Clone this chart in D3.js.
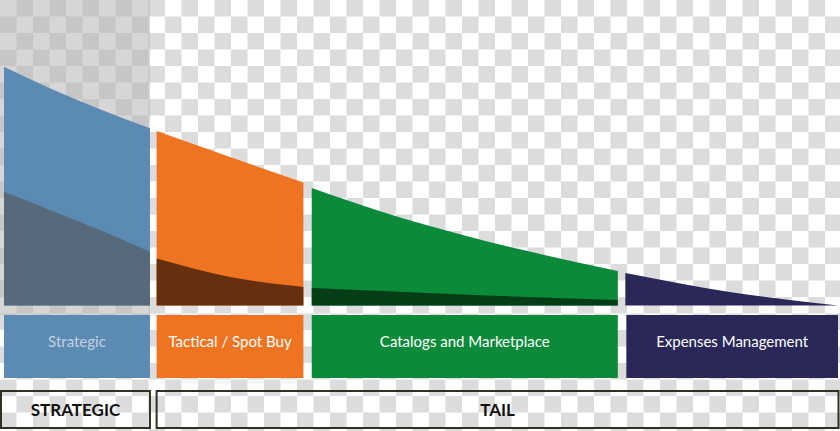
<!DOCTYPE html>
<html>
<head>
<meta charset="utf-8">
<script src="https://cdn.jsdelivr.net/npm/d3@7"></script>
<style>
  html, body { margin: 0; padding: 0; background: #fff; }
  svg { display: block; }
</style>
</head>
<body>
<div id="chart"></div>
<script>
// ---------- data ----------
const categories = ["Strategic", "Tactical / Spot Buy", "Catalogs and Marketplace", "Expenses Management"];
const groupLabels = ["STRATEGIC", "TAIL"];
const groupOf = [0, 1, 1, 1];
// share of suppliers (%) at which each segment's curve is sampled
const segX = [
  [0, 5.5, 11.5, 17.5],
  [18.3, 27.1, 35.9],
  [36.9, 45.4, 55.0, 73.6],
  [74.5, 87.0, 100]
];
// total spend curve (% of max)
const spend = [
  [95.5, 86.9, 78.5, 70.9],
  [69.8, 59.4, 49.2],
  [47.0, 37.4, 28.2, 13.8],
  [13.0, 5.4, 0]
];
// managed / core part of spend
const core = [
  [45.5, 38.2, 30.2, 21.5],
  [18.8, 11.4, 7.4],
  [7.0, 5.8, 4.4, 2.2],
  [0, 0, 0]
];

const colors     = ["#5b8ab3", "#ee7422", "#0b8b3a", "#2a2859"];
const darkColors = ["#566a7c", "#66300e", "#053d17", "#2a2859"];
const labelColors = ["#c3d1e1", "#ffffff", "#ffffff", "#ffffff"];

// ---------- layout ----------
const W = 840, H = 431;
const x = d3.scaleLinear().domain([0, 100]).range([4, 838]);
const y = d3.scaleLinear().domain([0, 100]).range([305.5, 55.5]);

const svg = d3.select("#chart").append("svg").attr("width", W).attr("height", H);
const defs = svg.append("defs");

function checker(id, c1, c2) {
  const p = defs.append("pattern").attr("id", id).attr("patternUnits", "userSpaceOnUse")
    .attr("width", 33).attr("height", 33);
  p.append("rect").attr("width", 33).attr("height", 33).attr("fill", c1);
  p.append("rect").attr("x", 16.5).attr("y", 0).attr("width", 16.5).attr("height", 16.5).attr("fill", c2);
  p.append("rect").attr("x", 0).attr("y", 16.5).attr("width", 16.5).attr("height", 16.5).attr("fill", c2);
}
checker("chk", "#ffffff", "#dcdcdc");
checker("chkDark", "#d6d6d6", "#c6c6c6");

svg.append("rect").attr("width", W).attr("height", H).attr("fill", "url(#chk)");

const segStart = segX.map(a => a[0]);
const segEnd = segX.map(a => a[a.length - 1]);

// strategic column shading
svg.append("rect").attr("x", 0).attr("y", 0).attr("width", x(segEnd[0])).attr("height", 315)
  .attr("fill", "url(#chkDark)");

const segs = categories.map((c, i) => ({
  name: c,
  top: segX[i].map((v, k) => [v, spend[i][k]]),
  core: segX[i].map((v, k) => [v, core[i][k]]),
  i
}));

const area = d3.area()
  .x(d => x(d[0])).y0(y(0)).y1(d => y(d[1]))
  .curve(d3.curveMonotoneX);

const g = svg.append("g");
segs.forEach(s => {
  g.append("path").attr("d", area(s.top)).attr("fill", colors[s.i]);
  if (d3.max(s.core, d => d[1]) > 0)
    g.append("path").attr("d", area(s.core)).attr("fill", darkColors[s.i]);
});

// label boxes
const lb = svg.append("g");
segs.forEach(s => {
  const x0 = x(segStart[s.i]) + (s.i === 3 ? 1 : 0);
  const x1 = x(segEnd[s.i]);
  lb.append("rect").attr("x", x0).attr("y", 315).attr("width", x1 - x0).attr("height", 63)
    .attr("fill", colors[s.i]);
  lb.append("text").attr("x", (x0 + x1) / 2).attr("y", 346.5)
    .attr("text-anchor", "middle")
    .attr("font-family", "Lato, 'Open Sans', sans-serif")
    .attr("font-size", 15)
    .attr("fill", labelColors[s.i])
    .text(s.name);
});

// group boxes
const groupExtent = groupLabels.map((gl, gi) => {
  const idx = groupOf.map((v, k) => v === gi ? k : -1).filter(k => k >= 0);
  return [d3.min(idx, k => segStart[k]), d3.max(idx, k => segEnd[k])];
});
const gb = svg.append("g");
groupLabels.forEach((gl, gi) => {
  const x0 = gi === 0 ? 1 : x(groupExtent[gi][0]);
  const x1 = gi === 0 ? x(groupExtent[gi][1]) : 838.5;
  gb.append("rect").attr("x", x0).attr("y", 391).attr("width", x1 - x0).attr("height", 37)
    .attr("fill", "none").attr("stroke", "#2e3126").attr("stroke-width", 2);
  gb.append("text").attr("x", (x0 + x1) / 2).attr("y", 416)
    .attr("text-anchor", "middle")
    .attr("font-family", "Lato, 'Open Sans', sans-serif")
    .attr("font-weight", "bold")
    .attr("font-size", 17)
    .attr("fill", "#111")
    .text(gl);
});
</script>
</body>
</html>
